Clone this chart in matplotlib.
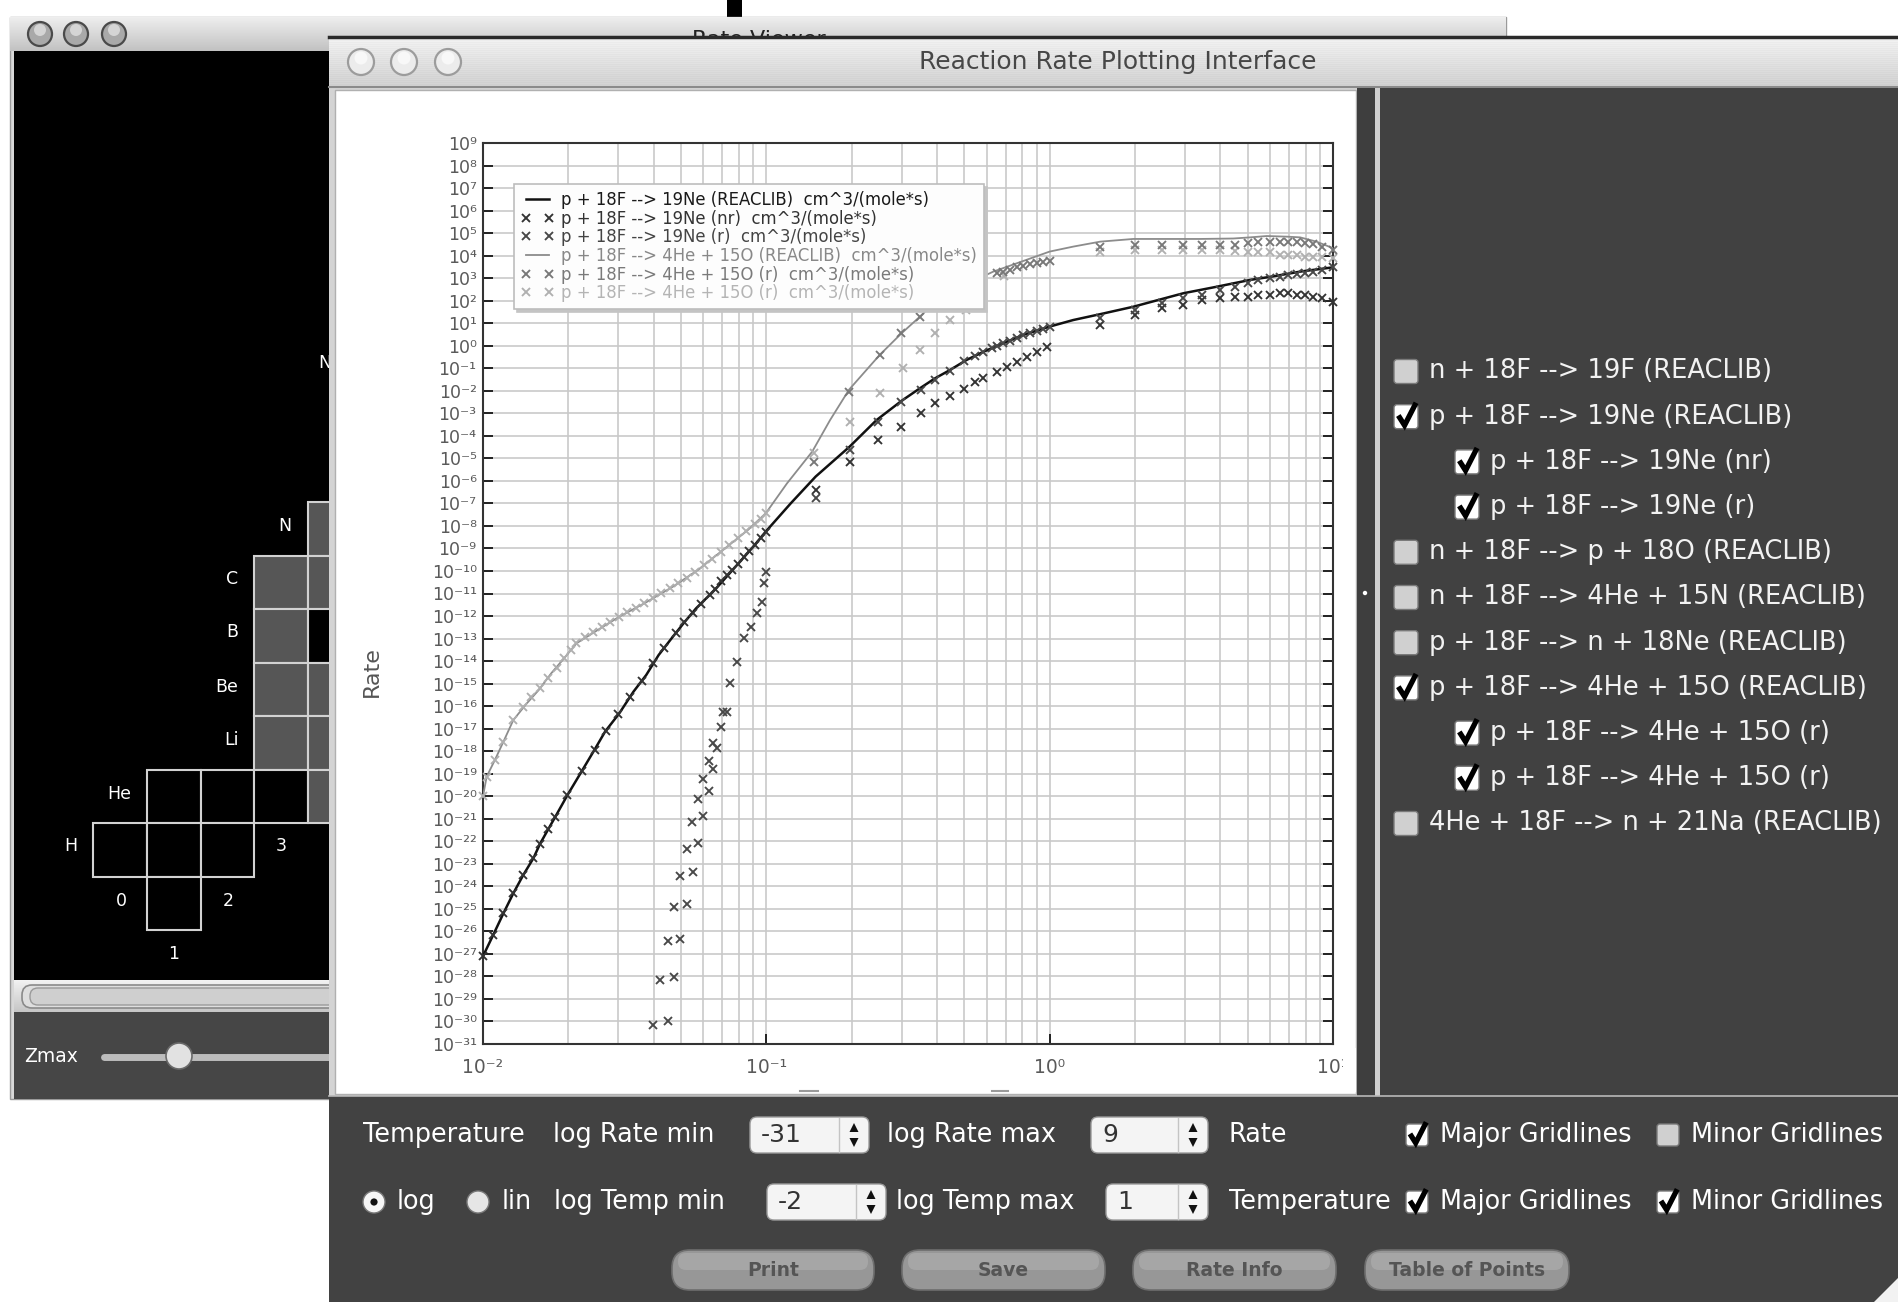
import numpy as np
import matplotlib
matplotlib.use("Agg")
import matplotlib.pyplot as plt
from matplotlib.colors import to_rgb
from matplotlib.lines import Line2D
from matplotlib.patches import Rectangle, FancyBboxPatch, Circle, Polygon
from matplotlib.ticker import FixedLocator, FuncFormatter, NullFormatter

plt.rcParams["font.family"] = ["DejaVu Sans"]

# ---------------------------------------------------------------- data
# log10(T9) and log10(rate) for each plotted series

# p + 18F --> 19Ne (REACLIB) fitted rate
ne_total_log_t9 = [-2.0, -1.964, -1.928, -1.893, -1.858, -1.822, -1.799, -1.770, -1.746, -1.702,
                   -1.652, -1.607, -1.569, -1.519, -1.469, -1.424, -1.380, -1.330, -1.292, -1.248,
                   -1.179, -1.103, -1.046, -1.002, -0.914, -0.826, -0.706, -0.611, -0.523, -0.458,
                   -0.405, -0.352, -0.293, -0.234, -0.164, -0.093, 0.0, 0.083, 0.178, 0.295,
                   0.389, 0.472, 0.590, 0.707, 0.789, 0.884, 1.0]
ne_total_log_rate = [-27.1, -26.16, -25.2, -24.31, -23.5, -22.75, -22.12, -21.47, -20.94, -19.95,
                     -18.9, -17.95, -17.13, -16.32, -15.36, -14.62, -13.73, -12.92, -12.32, -11.66,
                     -10.8, -9.73, -8.92, -8.25, -7.0, -5.81, -4.48, -3.30, -2.45, -1.89,
                     -1.45, -1.08, -0.63, -0.27, 0.11, 0.48, 0.85, 1.14, 1.40, 1.73,
                     2.05, 2.33, 2.62, 2.92, 3.08, 3.29, 3.48]

# p + 18F --> 19Ne (nr) tabulated points
ne_nr_log_t9 = [-2.0, -1.964, -1.928, -1.893, -1.858, -1.822, -1.799, -1.770, -1.746, -1.702,
                -1.652, -1.605, -1.566, -1.522, -1.48, -1.44, -1.40, -1.36, -1.32, -1.29,
                -1.26, -1.23, -1.20, -1.18, -1.16, -1.14, -1.12, -1.10, -1.08, -1.06,
                -1.04, -1.02, -1.0,
                -0.826, -0.706, -0.605, -0.523, -0.454, -0.403, -0.352, -0.303, -0.265, -0.234,
                -0.187, -0.152, -0.116, -0.081, -0.046, -0.011,
                0.178, 0.301, 0.395, 0.472, 0.537, 0.602, 0.655, 0.701, 0.736, 0.778,
                0.813, 0.842, 0.872, 0.901, 0.931, 0.960, 1.0]
ne_nr_log_rate = [-27.1, -26.16, -25.2, -24.31, -23.5, -22.75, -22.12, -21.47, -20.94, -19.95,
                  -18.9, -17.95, -17.1, -16.35, -15.6, -14.9, -14.1, -13.4, -12.75, -12.27,
                  -11.85, -11.45, -11.05, -10.8, -10.45, -10.2, -9.95, -9.7, -9.4, -9.1,
                  -8.85, -8.55, -8.25,
                  -6.4, -5.15, -4.19, -3.59, -3.0, -2.56, -2.25, -1.9, -1.6, -1.45,
                  -1.15, -0.93, -0.71, -0.49, -0.27, -0.04,
                  0.92, 1.36, 1.66, 1.81, 2.03, 2.10, 2.18, 2.18, 2.25, 2.25,
                  2.33, 2.33, 2.25, 2.25, 2.18, 2.10, 1.96]

# p + 18F --> 19Ne (r) tabulated points
ne_r_log_t9 = [-1.399, -1.346, -1.375, -1.326, -1.346, -1.305, -1.326, -1.281, -1.305, -1.260,
               -1.281, -1.240, -1.261, -1.225, -1.240, -1.201, -1.225, -1.187, -1.203, -1.173,
               -1.187, -1.160, -1.152, -1.138, -1.128, -1.103, -1.078, -1.053, -1.034, -1.015,
               -1.009, -1.002,
               -0.826, -0.706, -0.605, -0.523, -0.454, -0.403, -0.352, -0.303, -0.265, -0.234,
               -0.205, -0.187, -0.164, -0.140, -0.116, -0.093, -0.069, -0.046, -0.022, 0.0,
               0.178, 0.301, 0.395, 0.472, 0.537, 0.602, 0.655, 0.701, 0.736, 0.778,
               0.813, 0.842, 0.872, 0.901, 0.931, 0.960, 1.0]
ne_r_log_rate = [-30.16, -29.98, -28.16, -28.04, -26.41, -26.34, -24.9, -24.78, -23.53, -23.35,
                 -22.34, -22.06, -21.16, -20.88, -20.14, -19.77, -19.24, -18.79, -18.42, -17.87,
                 -17.62, -16.94, -16.25, -16.25, -14.99, -14.03, -12.99, -12.47, -11.88, -11.36,
                 -10.55, -10.03,
                 -6.77, -4.63, -3.4, -2.48, -1.95, -1.5, -1.1, -0.7, -0.45, -0.27,
                 -0.1, 0.0, 0.11, 0.22, 0.33, 0.46, 0.56, 0.65, 0.75, 0.85,
                 1.22, 1.59, 1.88, 2.10, 2.25, 2.47, 2.62, 2.77, 2.92, 2.99,
                 3.06, 3.14, 3.18, 3.21, 3.29, 3.36, 3.48]

# p + 18F --> 4He + 15O (REACLIB) fitted rate
he_total_log_t9 = [-2.0, -1.987, -1.958, -1.928, -1.893, -1.847, -1.803, -1.759, -1.714, -1.670,
                   -1.595, -1.519, -1.431, -1.330, -1.242, -1.153, -1.065, -1.002, -0.927, -0.838,
                   -0.775, -0.708, -0.600, -0.523, -0.458, -0.411, -0.300, -0.199, -0.116, 0.0,
                   0.083, 0.178, 0.295, 0.413, 0.530, 0.648, 0.707, 0.766, 0.842, 0.884,
                   0.942, 1.0]
he_total_log_rate = [-20.0, -19.13, -18.39, -17.58, -16.62, -15.9, -15.28, -14.54, -13.88, -13.21,
                     -12.62, -12.03, -11.44, -10.70, -9.96, -9.07, -8.18, -7.44, -6.11, -4.70,
                     -3.30, -1.95, -0.41, 0.55, 1.29, 1.88, 2.7, 3.29, 3.66, 4.18,
                     4.40, 4.62, 4.74, 4.74, 4.74, 4.76, 4.81, 4.87, 4.84, 4.81,
                     4.62, 4.33]

# p + 18F --> 4He + 15O (r), first resonance set
he_r1_log_t9 = [-0.832, -0.708, -0.600, -0.526, -0.458, -0.404, -0.350, -0.296, -0.250, -0.187,
                -0.164, -0.140, -0.116, -0.093, -0.069, -0.046, -0.022, 0.0,
                0.178, 0.301, 0.395, 0.472, 0.537, 0.602, 0.655, 0.701, 0.736, 0.778,
                0.813, 0.842, 0.872, 0.901, 0.931, 0.960, 1.0]
he_r1_log_rate = [-5.15, -2.05, -0.41, 0.55, 1.29, 1.85, 2.3, 2.7, 3.0, 3.21,
                  3.29, 3.36, 3.48, 3.54, 3.63, 3.69, 3.73, 3.78,
                  4.40, 4.47, 4.47, 4.47, 4.47, 4.47, 4.47, 4.55, 4.60, 4.62,
                  4.62, 4.62, 4.60, 4.55, 4.50, 4.40, 4.25]

# p + 18F --> 4He + 15O (r), second resonance set
he_r2_log_t9 = [-2.0, -1.987, -1.958, -1.928, -1.893, -1.86, -1.83, -1.80, -1.77, -1.74,
                -1.715, -1.69, -1.67, -1.64, -1.61, -1.58, -1.55, -1.52, -1.49, -1.46,
                -1.43, -1.40, -1.37, -1.34, -1.31, -1.28, -1.25, -1.22, -1.19, -1.16,
                -1.13, -1.10, -1.07, -1.04, -1.02, -1.0,
                -0.832, -0.706, -0.600, -0.519, -0.458, -0.404, -0.350, -0.296, -0.161,
                0.178, 0.301, 0.395, 0.472, 0.537, 0.602, 0.655, 0.701, 0.736, 0.778,
                0.813, 0.842, 0.872, 0.901, 0.931, 0.960, 1.0]
he_r2_log_rate = [-20.0, -19.13, -18.39, -17.58, -16.62, -16.05, -15.6, -15.2, -14.75, -14.3,
                  -13.85, -13.5, -13.21, -12.95, -12.72, -12.5, -12.27, -12.03, -11.84, -11.63,
                  -11.44, -11.22, -10.99, -10.77, -10.55, -10.3, -10.03, -9.75, -9.45, -9.14,
                  -8.85, -8.55, -8.23, -7.92, -7.68, -7.44,
                  -4.78, -3.37, -2.11, -1.0, -0.19, 0.55, 1.14, 1.59, 3.1,
                  4.17, 4.25, 4.25, 4.25, 4.25, 4.25, 4.20, 4.17, 4.17, 4.17,
                  4.03, 4.03, 4.03, 3.95, 3.95, 3.95, 3.88]

series_labels = [
    "p + 18F --> 19Ne (REACLIB)  cm^3/(mole*s)",
    "p + 18F --> 19Ne (nr)  cm^3/(mole*s)",
    "p + 18F --> 19Ne (r)  cm^3/(mole*s)",
    "p + 18F --> 4He + 15O (REACLIB)  cm^3/(mole*s)",
    "p + 18F --> 4He + 15O (r)  cm^3/(mole*s)",
    "p + 18F --> 4He + 15O (r)  cm^3/(mole*s)",
]
series_colors = ["#111111", "#333333", "#484848", "#8c8c8c", "#787878", "#b0b0b0"]
label_colors = ["#1a1a1a", "#333333", "#444444", "#888888", "#7a7a7a", "#b4b4b4"]

log_rate_min, log_rate_max = -31, 9
log_temp_min, log_temp_max = -2, 1

reaction_list = ["n + 18F --> 19F (REACLIB)",
                 "p + 18F --> 19Ne (REACLIB)",
                 "p + 18F --> 19Ne (nr)",
                 "p + 18F --> 19Ne (r)",
                 "n + 18F --> p + 18O (REACLIB)",
                 "n + 18F --> 4He + 15N (REACLIB)",
                 "p + 18F --> n + 18Ne (REACLIB)",
                 "p + 18F --> 4He + 15O (REACLIB)",
                 "p + 18F --> 4He + 15O (r)",
                 "p + 18F --> 4He + 15O (r)",
                 "4He + 18F --> n + 21Na (REACLIB)"]
reaction_checked = [False, True, True, True, False, False, False, True, True, True, False]
reaction_indent = [0, 0, 1, 1, 0, 0, 0, 0, 1, 1, 0]

nuclide_rows = ["N", "C", "B", "Be", "Li", "He", "H"]
neutron_numbers = ["0", "1", "2", "3"]

# ---------------------------------------------------------------- canvas
W, H = 1898, 1302
fig = plt.figure(figsize=(W / 100, H / 100), dpi=100)
fig.patch.set_facecolor("white")


def pixel_axes(z):
    a = fig.add_axes([0, 0, 1, 1], zorder=z)
    a.set_xlim(0, W)
    a.set_ylim(H, 0)
    a.set_autoscale_on(False)
    a.axis("off")
    return a


def rect(a, x0, y0, x1, y1, fc, ec="none", lw=0, z=1):
    a.add_patch(Rectangle((x0, y0), x1 - x0, y1 - y0, facecolor=fc,
                          edgecolor=ec, linewidth=lw, zorder=z))


def vgrad(a, x0, y0, x1, y1, c0, c1, z=1, stripes=0.0):
    n = max(int(round(y1 - y0)), 2)
    t = np.linspace(0, 1, n)[:, None, None]
    img = np.array(to_rgb(c0))[None, None, :] * (1 - t) + np.array(to_rgb(c1))[None, None, :] * t
    if stripes:
        img[1::2] = np.clip(img[1::2] - stripes, 0, 1)
    a.imshow(img, extent=(x0, x1, y1, y0), aspect="auto", interpolation="nearest", zorder=z)


def rounded(a, x0, y0, x1, y1, r, fc, ec="none", lw=0, z=1):
    a.add_patch(FancyBboxPatch((x0 + r, y0 + r), x1 - x0 - 2 * r, y1 - y0 - 2 * r,
                               boxstyle=f"round,pad={r}", facecolor=fc, edgecolor=ec,
                               linewidth=lw, zorder=z))


def label(a, x, y, s, size, color="white", ha="left", va="center", z=6, **kw):
    a.text(x, y, s, fontsize=size, color=color, ha=ha, va=va, zorder=z, **kw)


def checkmark(a, x0, y0, s, z):
    a.add_line(Line2D([x0 + 0.18 * s, x0 + 0.44 * s, x0 + 0.92 * s],
                      [y0 + 0.45 * s, y0 + 0.86 * s, y0 - 0.08 * s],
                      color="black", lw=3.8, solid_joinstyle="miter",
                      solid_capstyle="butt", zorder=z))


def checkbox(a, x0, yc, s, checked, z=6):
    y0 = yc - s / 2
    rounded(a, x0, y0, x0 + s, y0 + s, 3, "white" if checked else "#d0d0d0",
            ec="#7a7a7a", lw=1.0, z=z)
    if checked:
        checkmark(a, x0, y0, s, z + 1)


bg = pixel_axes(0)

# top-edge black tab
rect(bg, 727, 0, 742, 17, "black", z=1)

# ---- back window: Rate Viewer
rect(bg, 10, 17, 1506, 1099, "#d8d8d8", ec="#9a9a9a", lw=1, z=1)
vgrad(bg, 10, 17, 1506, 51, "#eeeeee", "#c2c2c2", z=2)
for cx in (40, 76, 114):
    bg.add_patch(Circle((cx, 34), 12, facecolor="#a9a9a9", edgecolor="#4a4a4a", lw=1.6, zorder=3))
    bg.add_patch(Circle((cx, 30), 6, facecolor="#d5d5d5", edgecolor="none", zorder=3))
label(bg, 759, 40, "Rate Viewer", 16, color="#222222", ha="center", z=3)
rect(bg, 14, 51, 1502, 980, "black", z=2)
vgrad(bg, 14, 980, 1502, 1012, "#f2f2f2", "#c6c6c6", z=2)
rounded(bg, 22, 985, 360, 1008, 10, "#dedede", ec="#8a8a8a", lw=1.2, z=3)
rounded(bg, 30, 988, 360, 1005, 8, "#cfcfcf", ec="#9a9a9a", lw=1.0, z=3)
rect(bg, 14, 1012, 1502, 1099, "#464646", z=2)
label(bg, 24, 1056, "Zmax", 13.5, z=3)
bg.add_line(Line2D([104, 360], [1057, 1057], color="#bcbcbc", lw=5, solid_capstyle="round", zorder=3))
bg.add_patch(Circle((179, 1056), 13, facecolor="#e2e2e2", edgecolor="#6a6a6a", lw=1.2, zorder=4))

# nuclide chart cells (x edges / y edges in pixels)
xe = [93.5, 147, 201, 254.5, 308, 361.5]
ye = [502, 555.5, 609, 662.5, 716, 769.5, 823, 876.5, 930]
cells = [  # (column, row, filled)
    (4, 0, True),
    (3, 1, True), (4, 1, True),
    (3, 2, True), (4, 2, False),
    (3, 3, True), (4, 3, True),
    (3, 4, True), (4, 4, True),
    (1, 5, False), (2, 5, False), (3, 5, False), (4, 5, True),
    (0, 6, False), (1, 6, False), (2, 6, False),
    (1, 7, False),
]
for c, r, filled in cells:
    rect(bg, xe[c], ye[r], xe[c + 1], ye[r + 1], "#565656" if filled else "black",
         ec="#d2d2d2", lw=1.5, z=3)
row_label_pos = [(285, 526), (232, 579), (232, 632), (227, 687), (232, 740), (119, 794), (71, 846)]
for name, (x, y) in zip(nuclide_rows, row_label_pos):
    label(bg, x, y, name, 12.5, ha="center", z=4)
for name, (x, y) in zip(neutron_numbers, [(121, 901), (174, 954), (228, 901), (281, 846)]):
    label(bg, x, y, name, 12.5, ha="center", z=4)
label(bg, 318, 363, "N", 12.5, z=4)

# ---- front window: Reaction Rate Plotting Interface
rect(bg, 329, 36, W, H, "#d4d4d4", z=5)
vgrad(bg, 329, 37, W, 86, "#f4f4f4", "#d3d3d3", z=6, stripes=0.018)
bg.add_line(Line2D([329, W], [36.5, 36.5], color="#2a2a2a", lw=2.5, zorder=7))
bg.add_line(Line2D([329, W], [86.5, 86.5], color="#8a8a8a", lw=1.5, zorder=7))
for cx in (361, 404, 448):
    bg.add_patch(Circle((cx, 62), 13, facecolor="#ececec", edgecolor="#9c9c9c", lw=1.6, zorder=7))
    bg.add_patch(Circle((cx, 58), 6.5, facecolor="#f8f8f8", edgecolor="none", zorder=7))
label(bg, 1118, 62, "Reaction Rate Plotting Interface", 18, color="#474747", ha="center", z=7)
rect(bg, 335, 90, 1356, 1094, "white", ec="#b0b0b0", lw=1, z=6)
# fragments of the clipped temperature caption under the axis
bg.add_line(Line2D([800, 818], [1091, 1091], color="#9a9a9a", lw=1.5, zorder=7))
bg.add_line(Line2D([992, 1008], [1091, 1091], color="#9a9a9a", lw=1.5, zorder=7))

# ---------------------------------------------------------------- chart
ax = fig.add_axes([483 / W, 1 - 1044 / H, 850 / W, 901 / H], zorder=2)
ax.set_xscale("log")
ax.set_yscale("log")
ax.set_xlim(10.0 ** log_temp_min, 10.0 ** log_temp_max)
ax.set_ylim(10.0 ** log_rate_min, 10.0 ** log_rate_max)

l_ne_total, = ax.plot(10.0 ** np.array(ne_total_log_t9), 10.0 ** np.array(ne_total_log_rate),
                      color=series_colors[0], lw=1.8, zorder=3)
l_he_total, = ax.plot(10.0 ** np.array(he_total_log_t9), 10.0 ** np.array(he_total_log_rate),
                      color=series_colors[3], lw=1.3, zorder=3)
marker_kw = dict(ls="none", marker="x", ms=5.8, mew=1.35, zorder=4, clip_on=False)
l_he_r2, = ax.plot(10.0 ** np.array(he_r2_log_t9), 10.0 ** np.array(he_r2_log_rate),
                   color=series_colors[5], **marker_kw)
l_he_r1, = ax.plot(10.0 ** np.array(he_r1_log_t9), 10.0 ** np.array(he_r1_log_rate),
                   color=series_colors[4], **marker_kw)
l_ne_nr, = ax.plot(10.0 ** np.array(ne_nr_log_t9), 10.0 ** np.array(ne_nr_log_rate),
                   color=series_colors[1], **marker_kw)
l_ne_r, = ax.plot(10.0 ** np.array(ne_r_log_t9), 10.0 ** np.array(ne_r_log_rate),
                  color=series_colors[2], **marker_kw)

SUPERSCRIPT = str.maketrans("-0123456789", "⁻⁰¹²³⁴⁵⁶⁷⁸⁹")


def power_label(v, pos):
    return "10" + str(int(round(np.log10(v)))).translate(SUPERSCRIPT)


grid_c = "#c9c9c9"
ax.set_axisbelow(True)
ax.yaxis.set_major_locator(FixedLocator([10.0 ** k for k in range(log_rate_min, log_rate_max + 1)]))
ax.yaxis.set_minor_locator(FixedLocator([]))
ax.xaxis.set_major_locator(FixedLocator([10.0 ** k for k in range(log_temp_min, log_temp_max + 1)]))
ax.xaxis.set_minor_locator(FixedLocator([m * 10.0 ** k for k in range(log_temp_min, log_temp_max)
                                         for m in range(2, 10)]))
ax.yaxis.set_major_formatter(FuncFormatter(power_label))
ax.xaxis.set_major_formatter(FuncFormatter(power_label))
ax.xaxis.set_minor_formatter(NullFormatter())
ax.grid(which="major", axis="both", color=grid_c, lw=1.2)
ax.grid(which="minor", axis="x", color=grid_c, lw=1.2)
ax.tick_params(axis="y", which="major", direction="in", length=7.5, width=1.4, color="#222222",
               left=True, right=True, labelsize=12.5, labelcolor="#5a5a5a", pad=4.5)
ax.tick_params(axis="x", which="major", direction="in", length=7.5, width=1.4, color="#222222",
               bottom=True, top=False, labelsize=13.5, labelcolor="#5a5a5a", pad=10)
ax.tick_params(axis="x", which="minor", length=0)
for sp in ax.spines.values():
    sp.set_color("#333333")
    sp.set_linewidth(1.5)
ax.set_ylabel("Rate", fontsize=16, color="#555555", va="center")
ax.yaxis.set_label_coords((372 - 483) / 850, 1 - (672 - 143) / 901)

leg = ax.legend([l_ne_total, l_ne_nr, l_ne_r, l_he_total, l_he_r1, l_he_r2], series_labels,
                loc="upper left", bbox_to_anchor=(514 / W, 1 - 184 / H),
                bbox_transform=fig.transFigure, borderaxespad=0, frameon=True,
                fancybox=False, shadow={"color": "#c4c4c4", "alpha": 1.0},
                borderpad=0.42, labelspacing=0.04, handlelength=2.0, handletextpad=0.45,
                numpoints=2, prop={"family": "DejaVu Sans", "size": 11.9},
                labelcolor=label_colors)
leg.get_frame().set_edgecolor("#bdbdbd")
leg.get_frame().set_linewidth(1.2)
leg.get_frame().set_facecolor("#fdfdfd")
leg.set_zorder(6)

# ---------------------------------------------------------------- panels over the chart
ov = pixel_axes(3)
rect(ov, 1343, 1048, 1356, 1092, "white", z=1)   # plot panel edge clips the last tick label
rect(ov, 1357, 88, 1375, 1096, "#3e3e3e", z=1)
rect(ov, 1375, 88, 1380, 1096, "#cfcfcf", z=1)
rect(ov, 1380, 88, W, 1096, "#414141", z=1)
ov.add_patch(Circle((1365, 593), 2.2, facecolor="white", edgecolor="none", zorder=2))

# reaction selector
for i, (name, on, ind) in enumerate(zip(reaction_list, reaction_checked, reaction_indent)):
    yc = 371.5 + 45.2 * i
    bx = 1455 if ind else 1394
    checkbox(ov, bx, yc, 24, on, z=3)
    label(ov, bx + 35, yc, name, 18.5, color="#f2f2f2", z=3)

# bottom control bar
rect(ov, 329, 1096, W, H, "#424242", z=1)
ov.add_line(Line2D([329, W], [1096, 1096], color="#b8b8b8", lw=1.2, zorder=2))


def spinner(a, x0, x1, yc, value):
    rounded(a, x0, yc - 18, x1, yc + 18, 7, "#f4f4f4", ec="#9a9a9a", lw=1.0, z=3)
    a.add_line(Line2D([x1 - 30, x1 - 30], [yc - 17, yc + 17], color="#c4c4c4", lw=1, zorder=4))
    label(a, x0 + 11, yc, value, 18, color="#333333", z=4)
    xa = x1 - 15
    a.add_patch(Polygon([[xa - 4.5, yc - 3], [xa + 4.5, yc - 3], [xa, yc - 12]],
                        closed=True, facecolor="#111111", edgecolor="none", zorder=4))
    a.add_patch(Polygon([[xa - 4.5, yc + 3], [xa + 4.5, yc + 3], [xa, yc + 12]],
                        closed=True, facecolor="#111111", edgecolor="none", zorder=4))


r1, r2 = 1135, 1202
fs = 18.4
label(ov, 363, r1, "Temperature", fs, z=3)
label(ov, 553, r1, "log Rate min", fs, z=3)
spinner(ov, 750, 869, r1, str(log_rate_min))
label(ov, 887, r1, "log Rate max", fs, z=3)
spinner(ov, 1091, 1208, r1, str(log_rate_max))
label(ov, 1229, r1, "Rate", fs, z=3)
checkbox(ov, 1406, r1, 22, True, z=3)
label(ov, 1440, r1, "Major Gridlines", fs, z=3)
checkbox(ov, 1657, r1, 22, False, z=3)
label(ov, 1691, r1, "Minor Gridlines", fs, z=3)

ov.add_patch(Circle((374, r2), 11, facecolor="#f6f6f6", edgecolor="#7a7a7a", lw=1, zorder=3))
ov.add_patch(Circle((374, r2), 3.6, facecolor="#111111", edgecolor="none", zorder=4))
label(ov, 397, r2, "log", fs, z=3)
ov.add_patch(Circle((478, r2), 11, facecolor="#e6e6e6", edgecolor="#7a7a7a", lw=1, zorder=3))
label(ov, 502, r2, "lin", fs, z=3)
label(ov, 554, r2, "log Temp min", fs, z=3)
spinner(ov, 767, 886, r2, str(log_temp_min))
label(ov, 896, r2, "log Temp max", fs, z=3)
spinner(ov, 1106, 1208, r2, str(log_temp_max))
label(ov, 1229, r2, "Temperature", fs, z=3)
checkbox(ov, 1406, r2, 22, True, z=3)
label(ov, 1440, r2, "Major Gridlines", fs, z=3)
checkbox(ov, 1657, r2, 22, True, z=3)
label(ov, 1691, r2, "Minor Gridlines", fs, z=3)

for (x0, x1), name in zip([(672, 874), (902, 1105), (1133, 1336), (1365, 1569)],
                          ["Print", "Save", "Rate Info", "Table of Points"]):
    rounded(ov, x0, 1250, x1, 1290, 18, "#979797", ec="#6e6e6e", lw=1.2, z=3)
    rounded(ov, x0 + 6, 1253, x1 - 6, 1270, 8, "#a6a6a6", z=3)
    label(ov, (x0 + x1) / 2, 1270, name, 13.5, color="#555555", ha="center", z=4,
          fontweight="bold")

# window resize grip
ov.add_patch(Polygon([[1874, H], [W, 1278], [W, H]], closed=True, facecolor="#f2f2f2",
                     edgecolor="none", zorder=3))

fig.savefig("out.png", dpi=100)
